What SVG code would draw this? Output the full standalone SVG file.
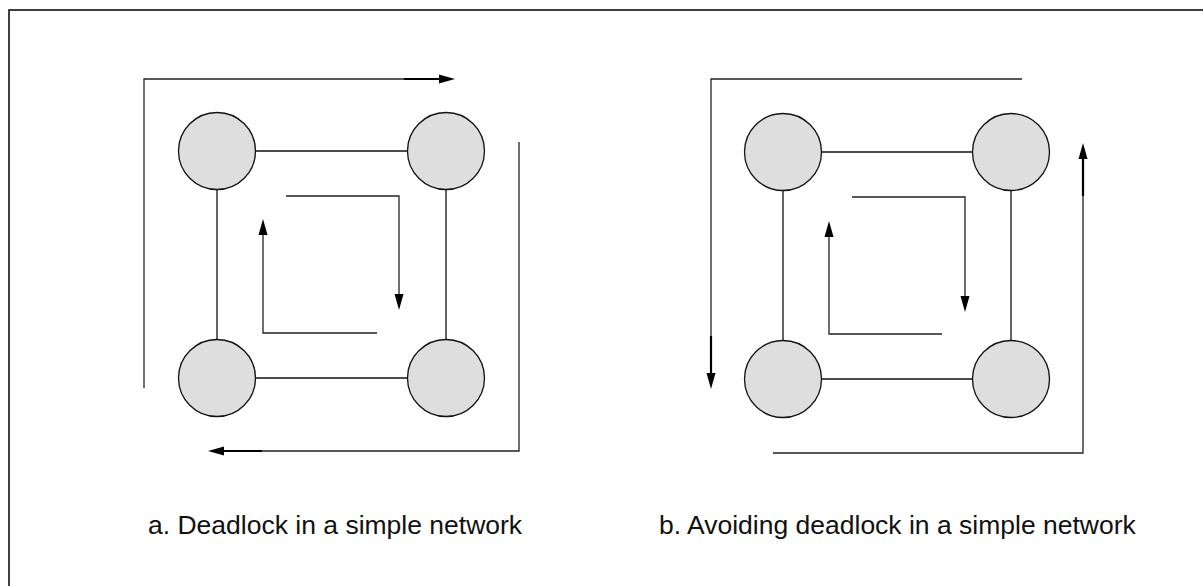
<svg xmlns="http://www.w3.org/2000/svg" width="1203" height="586" viewBox="0 0 1203 586">
<style>
.node{fill:#dedede;stroke:#111;stroke-width:1.3}
.edge{stroke:#111;stroke-width:1.3;fill:none}
.path{stroke:#222;stroke-width:1.3;fill:none}
.thick{stroke:#000;stroke-width:2.2;fill:none}
.head{fill:#000}
.lbl{font-family:"Liberation Sans",Arial,sans-serif;font-size:26.5px;fill:#111}
</style>
<rect x="9" y="10" width="1210" height="600" fill="#fff" stroke="#111" stroke-width="1.6"/>
<g id="connectors">
  <!-- diagram a: links -->
  <line class="edge" x1="256" y1="151" x2="407" y2="151"/>
  <line class="edge" x1="256" y1="378" x2="407" y2="378"/>
  <line class="edge" x1="217" y1="190" x2="217" y2="339"/>
  <line class="edge" x1="446" y1="190" x2="446" y2="339"/>
  <!-- diagram a: routes -->
  <polyline class="path" points="144,388 144,79 440,79"/>
  <line class="thick" x1="404" y1="79" x2="441" y2="79"/>
  <polygon class="head" points="455,79 439,74.5 439,83.5"/>
  <polyline class="path" points="519,142 519,451 262,451"/>
  <line class="thick" x1="262" y1="451" x2="222" y2="451"/>
  <polygon class="head" points="208,451 224,446.5 224,455.5"/>
  <polyline class="path" points="286,196 399,196 399,295"/>
  <polygon class="head" points="399,310 394.5,294 403.5,294"/>
  <polyline class="path" points="377,333 263,333 263,234"/>
  <polygon class="head" points="263,219 258.5,235 267.5,235"/>
  <!-- diagram b: links -->
  <line class="edge" x1="822" y1="152" x2="972" y2="152"/>
  <line class="edge" x1="822" y1="379" x2="972" y2="379"/>
  <line class="edge" x1="783" y1="191" x2="783" y2="340"/>
  <line class="edge" x1="1011" y1="191" x2="1011" y2="340"/>
  <!-- diagram b: routes -->
  <polyline class="path" points="1022,79 711,79 711,375"/>
  <line class="thick" x1="711" y1="336" x2="711" y2="376"/>
  <polygon class="head" points="711,389 706.5,373 715.5,373"/>
  <polyline class="path" points="773,453 1083,453 1083,158"/>
  <line class="thick" x1="1083" y1="196" x2="1083" y2="157"/>
  <polygon class="head" points="1083,143 1078.5,159 1087.5,159"/>
  <polyline class="path" points="852,197 965,197 965,297"/>
  <polygon class="head" points="965,312 960.5,296 969.5,296"/>
  <polyline class="path" points="942,334 829,334 829,236"/>
  <polygon class="head" points="829,221 824.5,237 833.5,237"/>
</g>
<g id="a-tl"><circle class="node" cx="217" cy="151" r="38.5"/></g>
<g id="a-tr"><circle class="node" cx="446" cy="151" r="38.5"/></g>
<g id="a-bl"><circle class="node" cx="217" cy="378" r="38.5"/></g>
<g id="a-br"><circle class="node" cx="446" cy="378" r="38.5"/></g>
<g id="b-tl"><circle class="node" cx="783" cy="152" r="38.5"/></g>
<g id="b-tr"><circle class="node" cx="1011" cy="152" r="38.5"/></g>
<g id="b-bl"><circle class="node" cx="783" cy="379" r="38.5"/></g>
<g id="b-br"><circle class="node" cx="1011" cy="379" r="38.5"/></g>
<g id="labels">
  <text class="lbl" x="148" y="534">a. Deadlock in a simple network</text>
  <text class="lbl" x="659" y="534">b. Avoiding deadlock in a simple network</text>
</g>
</svg>
